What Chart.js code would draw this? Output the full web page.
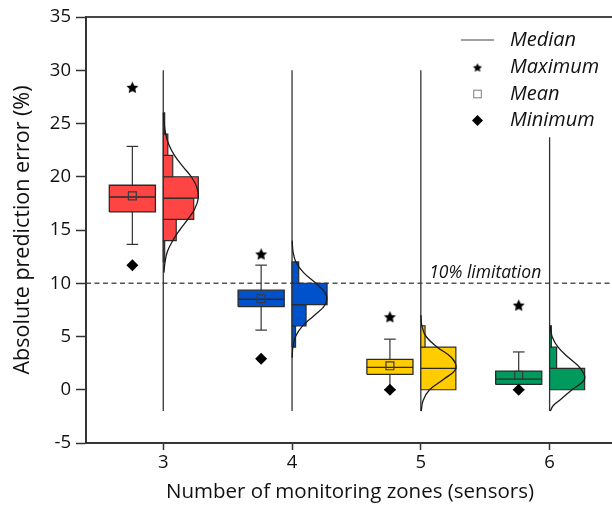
<!DOCTYPE html>
<html>
<head>
<meta charset="utf-8">
<script src="https://cdn.jsdelivr.net/npm/chart.js@4.4.1/dist/chart.umd.min.js"></script>
<style>
  html, body { margin: 0; padding: 0; overflow: hidden; background: #fff; }
  #wrap { width: 640px; height: 513px; }
</style>
</head>
<body>
<div id="wrap"><canvas id="c" width="640" height="513"></canvas></div>
<script>
// ---- data ----
const zones = [3, 4, 5, 6];
const zoneColors = ['#FF4444', '#0052CC', '#FFCC00', '#00995E'];
const whiskerLow = [13.65, 5.6, 0, 0];
const q1 = [16.7, 7.8, 1.45, 0.5];
const median = [18.1, 8.5, 2.1, 1.0];
const q3 = [19.2, 9.35, 2.85, 1.75];
const whiskerHigh = [22.85, 11.7, 4.75, 3.55];
const means = [18.2, 8.55, 2.25, 1.35];
const maxima = [28.4, 12.75, 6.85, 7.95];
const minima = [11.7, 2.9, 0, 0];

// histogram bins (2 % wide, lower edges) and relative frequency (tallest bin = 1)
const binLows = [
  [12, 14, 16, 18, 20, 22, 24],
  [4, 6, 8, 10],
  [0, 2, 4],
  [0, 2, 4]
];
const binFreq = [
  [0.04, 0.37, 0.87, 1.0, 0.27, 0.13, 0.04],
  [0.10, 0.40, 1.0, 0.19],
  [1.0, 1.0, 0.12],
  [1.0, 0.20, 0.05]
];
const binWidth = 2;

// fitted distribution outline: error level and relative density
const curveLevels = [
  [11, 12, 13, 14, 15, 16, 17, 18, 19, 20, 21, 22, 23, 24, 25, 26],
  [3, 4, 5, 6, 7, 8, 9, 10, 11, 12, 13, 14],
  [-2, -1, 0, 1, 2, 3, 4, 5, 6, 7],
  [-2, -1.5, -1, 0, 1, 2, 3, 4, 5, 6]
];
const curveDensity = [
  [0.02, 0.05, 0.12, 0.27, 0.47, 0.70, 0.90, 1.0, 0.96, 0.80, 0.55, 0.32, 0.16, 0.07, 0.025, 0.008],
  [0.004, 0.022, 0.10, 0.30, 0.64, 0.95, 0.96, 0.68, 0.33, 0.11, 0.026, 0.004],
  [0.01, 0.065, 0.25, 0.66, 1.0, 0.88, 0.47, 0.15, 0.03, 0.004],
  [0.02, 0.10, 0.28, 0.64, 1.0, 0.88, 0.55, 0.24, 0.07, 0.015]
];

// vertical baseline of each histogram
const spineTop = [30, 30, 30, 23.7];
const spineBottom = [-2, -2, -2, -2];

const limitValue = 10;
const limitText = '10% limitation';
const yTicks = [-5, 0, 5, 10, 15, 20, 25, 30, 35];
const legendLabels = ['Median', 'Maximum', 'Mean', 'Minimum'];

// ---- layout ----
const X_MIN = 2.4, X_MAX = 6.5;
const BOX_SHIFT = -0.24;   // box plot sits left of each category
const BOX_HALF = 0.179;
const CAP_HALF = 0.045;
const HIST_SPAN = 0.272;   // x-extent of a relative frequency of 1
const INK = '#2b2b2b';
const FONT = '"Open Sans", "Noto Sans", sans-serif';

function starImage(R) {
  const s = Math.ceil(R * 2 + 2);
  const cv = document.createElement('canvas');
  cv.width = cv.height = s;
  const g = cv.getContext('2d');
  g.translate(s / 2, s / 2 + R * 0.1);
  g.beginPath();
  for (let k = 0; k < 10; k++) {
    const r = k % 2 ? R * 0.48 : R;
    const a = -Math.PI / 2 + k * Math.PI / 5;
    g.lineTo(r * Math.cos(a), r * Math.sin(a));
  }
  g.closePath();
  g.fillStyle = '#000';
  g.fill();
  return cv;
}
const bigStar = starImage(6.3);

const datasets = [];
function add(ds) {
  datasets.push(Object.assign({
    pointRadius: 0, pointHoverRadius: 0, borderWidth: 1.2,
    borderColor: INK, backgroundColor: 'transparent', fill: false, tension: 0
  }, ds));
}
function rect(x0, x1, y0, y1) {
  return [{x: x0, y: y0}, {x: x0, y: y1}, {x: x1, y: y1}, {x: x1, y: y0}, {x: x0, y: y0}];
}

// dashed limit line
add({data: [{x: X_MIN, y: limitValue}, {x: X_MAX, y: limitValue}], borderColor: '#555', borderWidth: 1.3, borderDash: [5, 3.5]});

zones.forEach((c, i) => {
  // histogram baseline
  add({data: [{x: c, y: spineBottom[i]}, {x: c, y: spineTop[i]}], borderColor: '#333', borderWidth: 1.3});
});

zones.forEach((c, i) => {
  const bx = c + BOX_SHIFT;
  add({data: [{x: bx, y: whiskerLow[i]}, {x: bx, y: whiskerHigh[i]}], borderColor: '#333'});
  add({data: [{x: bx - CAP_HALF, y: whiskerHigh[i]}, {x: bx + CAP_HALF, y: whiskerHigh[i]}], borderColor: '#333'});
  add({data: [{x: bx - CAP_HALF, y: whiskerLow[i]}, {x: bx + CAP_HALF, y: whiskerLow[i]}], borderColor: '#333'});
  add({data: rect(bx - BOX_HALF, bx + BOX_HALF, q1[i], q3[i]), fill: 'shape', backgroundColor: zoneColors[i], borderWidth: 1.3});
  add({data: [{x: bx - BOX_HALF, y: median[i]}, {x: bx + BOX_HALF, y: median[i]}], borderWidth: 1.4});
});

zones.forEach((c, i) => {
  binLows[i].forEach((lo, k) => {
    add({data: rect(c, c + binFreq[i][k] * HIST_SPAN, lo, lo + binWidth), fill: 'shape', backgroundColor: zoneColors[i], borderWidth: 1.2});
  });
});

zones.forEach((c, i) => {
  add({
    data: curveLevels[i].map((y, k) => ({x: c + curveDensity[i][k] * HIST_SPAN, y})),
    borderColor: '#1a1a1a', borderWidth: 1.3, tension: 0.4
  });
});

// mean, maximum and minimum markers
add({
  data: zones.map((c, i) => ({x: c + BOX_SHIFT, y: means[i]})),
  showLine: false, pointStyle: 'rect', pointRadius: 5.6, pointBorderWidth: 1.2,
  pointBorderColor: '#3a3a3a', pointBackgroundColor: 'transparent'
});
add({
  data: zones.map((c, i) => ({x: c + BOX_SHIFT, y: maxima[i]})),
  showLine: false, pointStyle: bigStar, pointRadius: 6
});
add({
  data: zones.map((c, i) => ({x: c + BOX_SHIFT, y: minima[i]})),
  showLine: false, pointStyle: 'rectRot', pointRadius: 6, pointBorderWidth: 0,
  pointBackgroundColor: '#000', pointBorderColor: '#000'
});

// later entries paint on top
datasets.forEach((d, k) => { d.order = datasets.length - k; });

const framePlugin = {
  id: 'frame',
  afterDatasetsDraw(chart) {
    const {ctx, chartArea: a, scales} = chart;
    ctx.save();
    // limit annotation
    ctx.font = 'italic 17.5px ' + FONT;
    ctx.fillStyle = '#111';
    ctx.textAlign = 'left';
    ctx.textBaseline = 'alphabetic';
    ctx.fillText(limitText, scales.x.getPixelForValue(5.065), scales.y.getPixelForValue(limitValue) - 5.5);
    // plot frame
    ctx.strokeStyle = '#333';
    ctx.lineWidth = 1.8;
    ctx.strokeRect(a.left, a.top, a.right - a.left, a.bottom - a.top);
    // key
    const rows = [40, 67.5, 94, 120.5];
    const sx = 477.5, tx = 510;
    ctx.font = 'italic 20px ' + FONT;
    ctx.textBaseline = 'middle';
    legendLabels.forEach((t, k) => ctx.fillText(t, tx, rows[k]));
    ctx.strokeStyle = '#444';
    ctx.lineWidth = 1.2;
    ctx.beginPath(); ctx.moveTo(461, rows[0]); ctx.lineTo(494, rows[0]); ctx.stroke();
    const small = starImage(4.8);
    ctx.drawImage(small, sx - small.width / 2, rows[1] - small.height / 2);
    ctx.strokeStyle = '#888';
    ctx.lineWidth = 1.1;
    ctx.strokeRect(sx - 3.8, rows[2] - 3.8, 7.6, 7.6);
    ctx.fillStyle = '#000';
    ctx.beginPath();
    ctx.moveTo(sx - 5.5, rows[3]); ctx.lineTo(sx, rows[3] - 5.5);
    ctx.lineTo(sx + 5.5, rows[3]); ctx.lineTo(sx, rows[3] + 5.5);
    ctx.closePath(); ctx.fill();
    ctx.restore();
  }
};

new Chart(document.getElementById('c'), {
  type: 'line',
  data: {datasets},
  options: {
    responsive: false,
    animation: false,
    devicePixelRatio: 1,
    events: [],
    layout: {padding: {top: 17, right: 26, left: 0, bottom: 0}},
    plugins: {legend: {display: false}, tooltip: {enabled: false}},
    scales: {
      x: {
        type: 'linear', min: X_MIN, max: X_MAX,
        afterBuildTicks: s => { s.ticks = zones.map(v => ({value: v})); },
        afterFit: s => { s.height = 70; },
        grid: {drawOnChartArea: false, drawTicks: true, tickLength: 7, tickWidth: 1.5, tickColor: '#333'},
        border: {display: true, color: '#333', width: 1.8},
        ticks: {padding: 2, color: '#111', font: {family: FONT, size: 18.5}},
        title: {display: true, text: 'Number of monitoring zones (sensors)', color: '#111',
                font: {family: FONT, size: 20.5}, padding: {bottom: 9, top: 0}}
      },
      y: {
        type: 'linear', min: -5, max: 35,
        afterBuildTicks: s => { s.ticks = yTicks.map(v => ({value: v})); },
        afterFit: s => { s.width = 86; },
        grid: {drawOnChartArea: false, drawTicks: true, tickLength: 10, tickWidth: 1.5, tickColor: '#333'},
        border: {display: true, color: '#333', width: 1.8},
        ticks: {padding: 5, color: '#111', font: {family: FONT, size: 18.5}},
        title: {display: true, text: 'Absolute prediction error (%)', color: '#111',
                font: {family: FONT, size: 21.5}, padding: {top: 9.5, bottom: 0}}
      }
    }
  },
  plugins: [framePlugin]
});
</script>
</body>
</html>
